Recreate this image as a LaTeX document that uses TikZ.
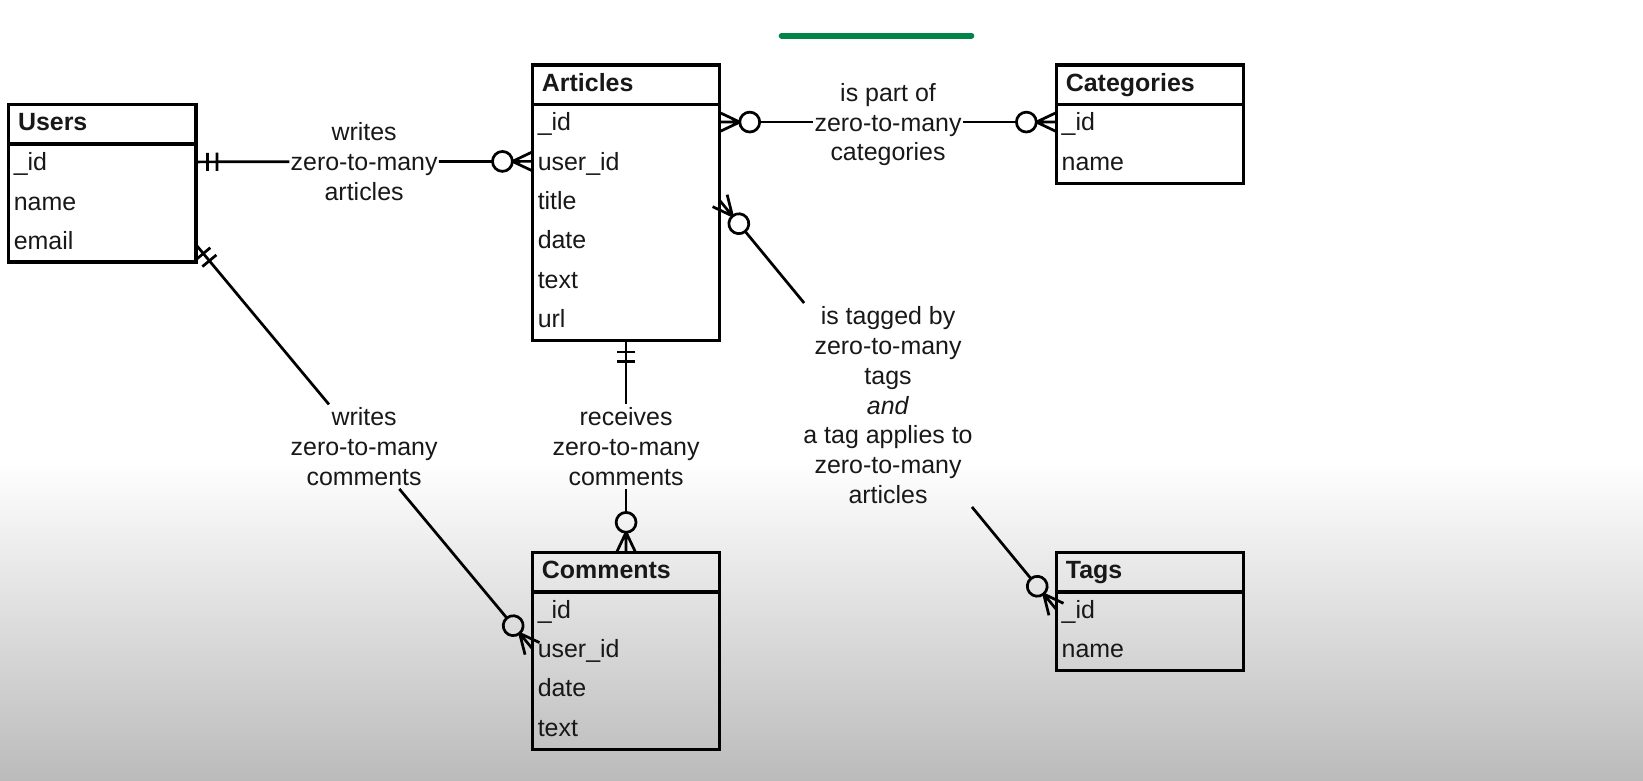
\documentclass[tikz,border=0pt]{standalone}
\usepackage{fontspec}
\setmainfont{Liberation Sans}
\usetikzlibrary{calc}
\definecolor{ink}{RGB}{24,24,24}
\definecolor{bargreen}{RGB}{0,132,71}
\definecolor{bggray}{RGB}{187,187,187}
\tikzset{
  ebox/.style={draw=black, line width=3.1pt, minimum width=179pt, inner sep=0pt, outer sep=0pt, anchor=north west},
  boxline/.style={line width=3.1pt},
  etitle/.style={anchor=west, inner sep=0pt, text height=17pt, text depth=0pt, font=\fontsize{23.8}{28.5}\selectfont\bfseries, text=ink},
  erow/.style={anchor=west, inner sep=0pt, text height=17pt, text depth=0pt, font=\fontsize{23.8}{28.5}\selectfont, text=ink},
  lbl/.style={align=center, inner xsep=1pt, inner ysep=3pt, text depth=0pt, font=\fontsize{23.8}{28.5}\selectfont, text=ink},
  conn/.style={line width=2.6pt, draw=black},
  pics/crowzero/.style={code={
    \draw[conn] (-19,0) -- (0,9) (-19,0) -- (0,-9) (-19,0) -- (0,0);
    \draw[conn] (-28.5,0) circle[radius=9.5];
  }},
  pics/onlyone/.style={code={
    \draw[conn] (-11,-8.7) -- (-11,8.7) (-20,-8.7) -- (-20,8.7);
  }},
}
\newcommand\ermark[3]{\path let \p1=($(#2)-(#1)$), \n1={atan2(\y1,\x1)} in (#2) pic[rotate=\n1]{#3};}
\begin{document}
\begin{tikzpicture}[x=1pt,y=1pt]
\useasboundingbox (0,0) rectangle (1568,-744.4);
\fill[white] (0,0) rectangle (1568,-440);
\shade[top color=white, bottom color=bggray] (0,-440) rectangle (1568,-744.4);
\draw[bargreen, line width=5.7pt, line cap=round] (746,-34) -- (927,-34);

% Users
\node[ebox, minimum height=150pt] (users) at (8,-100) {};
\draw[boxline] ($(users.north west)+(0,-37.5)$) -- ($(users.north east)+(0,-37.5)$);
\node[etitle] (u-t) at ($(users.north west)+(9,-16.5)$) {Users};
\node[erow] (u-id) at ($(users.north west)+(5,-54.5)$) {\_id};
\node[erow] (u-name) at ($(users.north west)+(5,-92)$) {name};
\node[erow] (u-email) at ($(users.north west)+(5,-129.5)$) {email};

% Articles
\node[ebox, minimum height=263pt] (articles) at (508,-62) {};
\draw[boxline] ($(articles.north west)+(0,-38)$) -- ($(articles.north east)+(0,-38)$);
\node[etitle] (a-t) at ($(articles.north west)+(9,-16.5)$) {Articles};
\node[erow] (a-id) at ($(articles.north west)+(5,-54.5)$) {\_id};
\node[erow] (a-userid) at ($(articles.north west)+(5,-92)$) {user\_id};
\node[erow] (a-title) at ($(articles.north west)+(5,-129.5)$) {title};
\node[erow] (a-date) at ($(articles.north west)+(5,-167)$) {date};
\node[erow] (a-text) at ($(articles.north west)+(5,-204.5)$) {text};
\node[erow] (a-url) at ($(articles.north west)+(5,-242)$) {url};

% Categories
\node[ebox, minimum height=113pt] (categories) at (1008,-62) {};
\draw[boxline] ($(categories.north west)+(0,-38)$) -- ($(categories.north east)+(0,-38)$);
\node[etitle] (c-t) at ($(categories.north west)+(9,-16.5)$) {Categories};
\node[erow] (c-id) at ($(categories.north west)+(5,-54.5)$) {\_id};
\node[erow] (c-name) at ($(categories.north west)+(5,-92)$) {name};

% Comments
\node[ebox, minimum height=188pt] (comments) at (508,-527) {};
\draw[boxline] ($(comments.north west)+(0,-38)$) -- ($(comments.north east)+(0,-38)$);
\node[etitle] (m-t) at ($(comments.north west)+(9,-16.5)$) {Comments};
\node[erow] (m-id) at ($(comments.north west)+(5,-54.5)$) {\_id};
\node[erow] (m-userid) at ($(comments.north west)+(5,-92)$) {user\_id};
\node[erow] (m-date) at ($(comments.north west)+(5,-129.5)$) {date};
\node[erow] (m-text) at ($(comments.north west)+(5,-167)$) {text};

% Tags
\node[ebox, minimum height=113pt] (tags) at (1008,-527) {};
\draw[boxline] ($(tags.north west)+(0,-38)$) -- ($(tags.north east)+(0,-38)$);
\node[etitle] (t-t) at ($(tags.north west)+(9,-16.5)$) {Tags};
\node[erow] (t-id) at ($(tags.north west)+(5,-54.5)$) {\_id};
\node[erow] (t-name) at ($(tags.north west)+(5,-92)$) {name};

% connector end points
\coordinate (ua-s) at (users.east |- u-id);
\coordinate (ua-e) at (articles.west |- a-userid);
\coordinate (ac-s) at (articles.east |- a-id);
\coordinate (ac-e) at (categories.west |- c-id);
\coordinate (at-s) at (articles.east |- a-title);
\coordinate (at-e) at (tags.west |- t-id);
\coordinate (uc-s) at ($(users.east |- u-email)+(0,-4)$);
\coordinate (uc-e) at (comments.west |- m-userid);
\coordinate (ar-s) at (articles.south);
\coordinate (ar-e) at (comments.north);

% labels
\node[lbl] (lblUA) at ($(ua-s)!0.5!(ua-e)$) {writes\\zero-to-many\\articles};
\node[lbl] (lblAC) at ($(ac-s)!0.5!(ac-e)$) {is part of\\zero-to-many\\categories};
\node[lbl] (lblAT) at ($(at-s)!0.5!(at-e)$) {is tagged by\\zero-to-many\\tags\\\textit{and}\\a tag applies to\\zero-to-many\\articles};
\node[lbl] (lblUC) at ($(uc-s)!0.5!(uc-e)$) {writes\\zero-to-many\\comments};
\node[lbl] (lblAR) at ($(ar-s)!0.5!(ar-e)$) {receives\\zero-to-many\\comments};

% Users -- Articles
\draw[conn] (ua-s) -- (lblUA);
\draw[conn, shorten >=38pt] (lblUA) -- (ua-e);
\ermark{ua-s}{ua-e}{crowzero}
\ermark{ua-e}{ua-s}{onlyone}

% Articles -- Categories
\draw[conn, shorten <=38pt] (ac-s) -- (lblAC);
\draw[conn, shorten >=38pt] (lblAC) -- (ac-e);
\ermark{ac-s}{ac-e}{crowzero}
\ermark{ac-e}{ac-s}{crowzero}

% Articles -- Tags
\draw[conn, shorten <=38pt] (at-s) -- (lblAT);
\draw[conn, shorten >=38pt] (lblAT) -- (at-e);
\ermark{at-s}{at-e}{crowzero}
\ermark{at-e}{at-s}{crowzero}

% Users -- Comments
\draw[conn] (uc-s) -- (lblUC);
\draw[conn, shorten >=38pt] (lblUC) -- (uc-e);
\ermark{uc-s}{uc-e}{crowzero}
\ermark{uc-e}{uc-s}{onlyone}

% Articles -- Comments
\draw[conn] (ar-s) -- (lblAR);
\draw[conn, shorten >=38pt] (lblAR) -- (ar-e);
\ermark{ar-s}{ar-e}{crowzero}
\ermark{ar-e}{ar-s}{onlyone}
\end{tikzpicture}
\end{document}
